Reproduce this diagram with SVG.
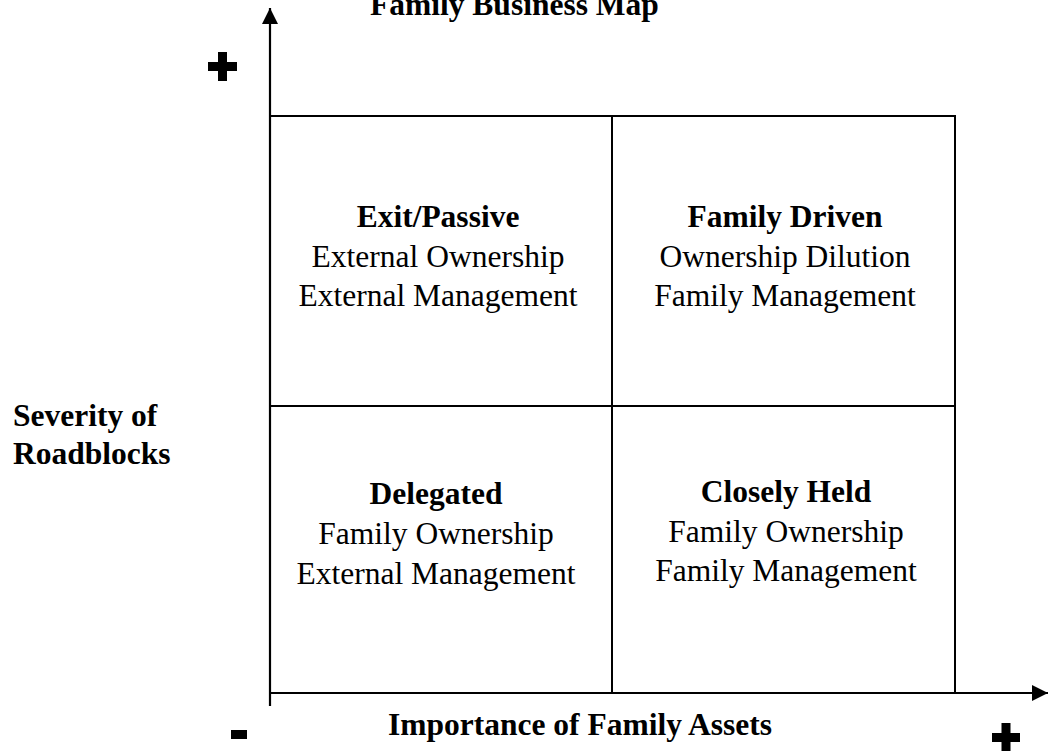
<svg xmlns="http://www.w3.org/2000/svg" width="1048" height="756" viewBox="0 0 1048 756">
  <style>
    .t { font-family: "Liberation Serif", "Times New Roman", serif; font-size: 31.5px; fill: #000; }
    .b { font-weight: bold; }
    .mid { text-anchor: middle; }
    .grid { stroke: #000; stroke-width: 2; fill: none; }
    .axis { stroke: #000; stroke-width: 2.2; fill: none; }
    .sign { fill: #000; }
  </style>
  <defs>
    <marker id="head" viewBox="0 0 16 16" refX="16" refY="8" markerWidth="16" markerHeight="16" markerUnits="userSpaceOnUse" orient="auto">
      <path d="M0,0 L16,8 L0,16 Z" fill="#000"/>
    </marker>
  </defs>
  <rect width="1048" height="756" fill="#fff"/>

  <text class="t b" x="370" y="15">Family Business Map</text>

  <!-- quadrant grid -->
  <g id="grid" class="grid">
    <path d="M270,116 H955 V693"/>
    <path d="M612,116 V693"/>
    <path d="M270,406 H955"/>
  </g>

  <!-- axes with arrowheads -->
  <g id="axes" class="axis">
    <path d="M270,706 V8" marker-end="url(#head)"/>
    <path d="M269,693 H1048" marker-end="url(#head)"/>
  </g>

  <!-- axis end signs -->
  <g id="signs" class="sign">
    <rect x="208" y="62" width="29" height="9"/>
    <rect x="218" y="52" width="9" height="29"/>
    <rect x="231" y="730" width="16" height="9"/>
    <rect x="992" y="733" width="28" height="9"/>
    <rect x="1001.5" y="723" width="9" height="28"/>
  </g>

  <g id="y-label">
    <text class="t b" x="13" y="426">Severity of</text>
    <text class="t b" x="13" y="464">Roadblocks</text>
  </g>
  <g id="x-label">
    <text class="t b" x="388" y="735">Importance of Family Assets</text>
  </g>

  <g id="q-exit-passive">
    <text class="t b mid" x="438" y="227">Exit/Passive</text>
    <text class="t mid" x="438" y="267">External Ownership</text>
    <text class="t mid" x="438" y="306">External Management</text>
  </g>
  <g id="q-family-driven">
    <text class="t b mid" x="785" y="227">Family Driven</text>
    <text class="t mid" x="785" y="267">Ownership Dilution</text>
    <text class="t mid" x="785" y="306">Family Management</text>
  </g>
  <g id="q-delegated">
    <text class="t b mid" x="436" y="504">Delegated</text>
    <text class="t mid" x="436" y="544">Family Ownership</text>
    <text class="t mid" x="436" y="584">External Management</text>
  </g>
  <g id="q-closely-held">
    <text class="t b mid" x="786" y="502">Closely Held</text>
    <text class="t mid" x="786" y="542">Family Ownership</text>
    <text class="t mid" x="786" y="581">Family Management</text>
  </g>
</svg>
